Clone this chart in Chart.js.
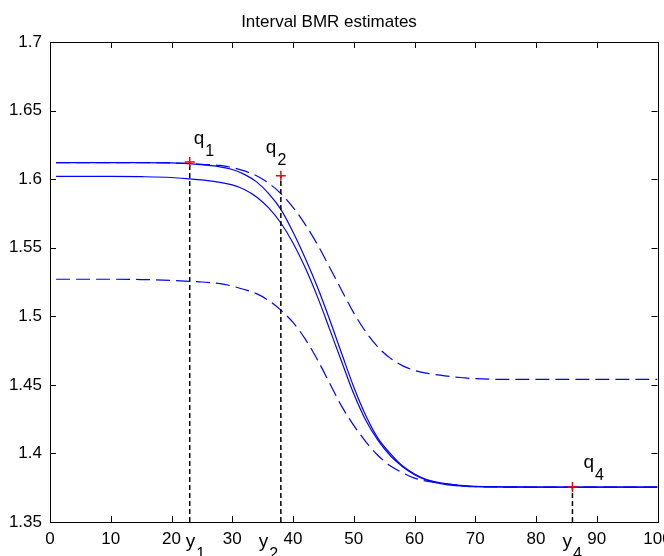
<!DOCTYPE html>
<html>
<head>
<meta charset="utf-8">
<title>Interval BMR estimates</title>
<script src="https://cdn.jsdelivr.net/npm/chart.js@4.4.1/dist/chart.umd.min.js"></script>
<style>
  html, body { margin: 0; padding: 0; background: #fff; }
  #wrap { width: 664px; height: 556px; }
</style>
</head>
<body>
<div id="wrap"><canvas id="bmr-chart"></canvas></div>
<script>
// values
const xs = [1, 5, 10, 15, 20, 23, 25, 28, 30, 32, 34, 36, 38, 40, 42, 44, 46, 48, 50,
            52, 54, 56, 58, 60, 62, 65, 68, 70, 75, 80, 90, 100];

const fitUpper = [1.612, 1.612, 1.612, 1.612, 1.6118, 1.6113, 1.6105, 1.609, 1.607, 1.6035, 1.598, 1.5895,
                  1.578, 1.5615, 1.5425, 1.5215, 1.498, 1.473, 1.4485, 1.4275, 1.411, 1.4, 1.391, 1.385,
                  1.381, 1.378, 1.3765, 1.376, 1.3757, 1.3755, 1.3755, 1.3755];
const fitLower = [1.602, 1.602, 1.602, 1.6018, 1.6012, 1.6002, 1.5994, 1.5976, 1.5958, 1.5925, 1.587, 1.579,
                  1.568, 1.5535, 1.5355, 1.5145, 1.491, 1.467, 1.4435, 1.424, 1.4095, 1.3985, 1.3905, 1.3845,
                  1.3805, 1.3775, 1.3762, 1.3757, 1.3755, 1.3755, 1.3755, 1.3755];
const boundUpper = [1.612, 1.612, 1.612, 1.612, 1.6118, 1.6113, 1.6108, 1.61, 1.6085, 1.606, 1.6025, 1.597,
                    1.5895, 1.5795, 1.567, 1.5525, 1.536, 1.519, 1.5025, 1.4885, 1.4775, 1.4695, 1.464, 1.4605,
                    1.4585, 1.4565, 1.4552, 1.4545, 1.454, 1.454, 1.454, 1.454];
const boundLower = [1.527, 1.527, 1.527, 1.5268, 1.5262, 1.5255, 1.525, 1.5238, 1.522, 1.5195, 1.5165, 1.5115,
                    1.5045, 1.4955, 1.4835, 1.4685, 1.4515, 1.4345, 1.4205, 1.4085, 1.3985, 1.391, 1.386, 1.382,
                    1.3798, 1.378, 1.3765, 1.3758, 1.3755, 1.3755, 1.3755, 1.3755];

// the marked quantiles q1, q2, q4
const qNames = ['1', '2', '4'];
const qX = [23, 38, 86];
const qY = [1.6125, 1.6025, 1.3755];

const xTicks = [0, 10, 20, 30, 40, 50, 60, 70, 80, 90, 100];
const yTicks = [1.35, 1.4, 1.45, 1.5, 1.55, 1.6, 1.65, 1.7];

const BLUE = '#0000ff';
const TICK = 6;
const textFont = '"Liberation Sans", Arial, sans-serif';

const pts = (ys) => xs.map((x, i) => ({ x: x, y: ys[i] }));

function curve(ys, dashed) {
    return {
        data: pts(ys),
        borderColor: BLUE,
        borderWidth: 1.2,
        borderDash: dashed ? [14, 6] : [],
        pointRadius: 0,
        cubicInterpolationMode: 'monotone',
        fill: false
    };
}

const markerSet = {
    data: qX.map((x, i) => ({ x: x, y: qY[i] })),
    showLine: false,
    pointStyle: 'cross',
    pointRadius: 5,
    borderColor: '#ff0000',
    borderWidth: 1.5
};

const dropLines = qX.map((x, i) => ({
    data: [{ x: x, y: yTicks[0] }, { x: x, y: qY[i] }],
    borderColor: '#000',
    borderWidth: 1.5,
    borderDash: [5, 3],
    pointRadius: 0
}));

// q / y labels, offsets in px from each marker (left edge, baseline)
const qOffsets = [[4, -18.5], [-15, -23], [11, -19]];
const yOffsets = [-4, -22, -10];

function subText(ctx, base, sub, x, y) {
    ctx.font = '19px ' + textFont;
    ctx.fillText(base, x, y);
    const w = ctx.measureText(base).width;
    ctx.font = '16px ' + textFont;
    ctx.fillText(sub, x + w + 1, y + 12);
}

const matlabAxes = {
    id: 'matlabAxes',
    afterDatasetsDraw(chart) {
        const { ctx, chartArea: a, scales: { x, y } } = chart;
        ctx.save();
        ctx.strokeStyle = '#000';
        ctx.lineWidth = 1;
        ctx.beginPath();
        x.ticks.forEach(t => {
            const px = Math.round(x.getPixelForValue(t.value)) + 0.5;
            ctx.moveTo(px, a.bottom); ctx.lineTo(px, a.bottom - TICK);
            ctx.moveTo(px, a.top); ctx.lineTo(px, a.top + TICK);
        });
        y.ticks.forEach(t => {
            const py = Math.round(y.getPixelForValue(t.value)) + 0.5;
            ctx.moveTo(a.left, py); ctx.lineTo(a.left + TICK, py);
            ctx.moveTo(a.right, py); ctx.lineTo(a.right - TICK, py);
        });
        ctx.stroke();
        ctx.strokeRect(Math.round(a.left) + 0.5, Math.round(a.top) + 0.5,
                       Math.round(a.right - a.left), Math.round(a.bottom - a.top));

        ctx.fillStyle = '#000';
        ctx.textAlign = 'left';
        ctx.textBaseline = 'alphabetic';
        qX.forEach((qx, i) => {
            const px = x.getPixelForValue(qx);
            const py = y.getPixelForValue(qY[i]);
            subText(ctx, 'q', qNames[i], px + qOffsets[i][0], py + qOffsets[i][1]);
            subText(ctx, 'y', qNames[i], px + yOffsets[i], a.bottom + 24.5);
        });
        ctx.restore();
    }
};

new Chart(document.getElementById('bmr-chart'), {
    type: 'line',
    data: {
        datasets: [markerSet, ...dropLines,
                   curve(fitUpper, false), curve(fitLower, false),
                   curve(boundUpper, true), curve(boundLower, true)]
    },
    options: {
        responsive: true,
        maintainAspectRatio: false,
        animation: false,
        layout: { padding: { left: 0, right: 6, top: 0, bottom: 0 } },
        plugins: {
            legend: { display: false },
            tooltip: { enabled: false },
            title: {
                display: true,
                text: 'Interval BMR estimates',
                color: '#000',
                font: { family: textFont, size: 17, weight: 'normal' },
                padding: { top: 12, bottom: 9.6 }
            }
        },
        scales: {
            x: {
                type: 'linear',
                min: 0,
                max: 100,
                grid: { display: false, drawTicks: false },
                border: { display: false },
                afterBuildTicks: (s) => { s.ticks = xTicks.map(v => ({ value: v })); },
                afterFit: (s) => { s.height = 34; s.paddingLeft = 0; s.paddingRight = 0; },
                ticks: {
                    color: '#000',
                    padding: 7,
                    maxRotation: 0,
                    autoSkip: false,
                    font: { family: textFont, size: 17 }
                }
            },
            y: {
                type: 'linear',
                min: 1.35,
                max: 1.7,
                grid: { display: false, drawTicks: false },
                border: { display: false },
                afterBuildTicks: (s) => { s.ticks = yTicks.map(v => ({ value: v })); },
                afterFit: (s) => { s.width = 50; s.paddingTop = 0; s.paddingBottom = 0; },
                ticks: {
                    color: '#000',
                    padding: 8,
                    autoSkip: false,
                    font: { family: textFont, size: 17 },
                    callback: (v) => String(v)
                }
            }
        }
    },
    plugins: [matlabAxes]
});
</script>
</body>
</html>
